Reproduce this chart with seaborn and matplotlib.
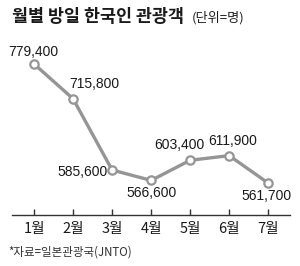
import matplotlib
matplotlib.use("Agg")
import matplotlib.pyplot as plt
import seaborn as sns
import pandas as pd
from matplotlib import font_manager

months = ["1월", "2월", "3월", "4월", "5월", "6월", "7월"]
visitors = [779400, 715800, 585600, 566600, 603400, 611900, 561700]
label_offsets = [(-1, 12), (21, 15), (-30, -2), (0, -13), (-11, 15), (3, 15), (-2, -13)]

sns.set_theme(style="white")
names = {f.name for f in font_manager.fontManager.ttflist}
num_font = "Liberation Sans Narrow" if "Liberation Sans Narrow" in names else "Liberation Sans"
plt.rcParams['font.family'] = ['Noto Sans CJK KR', 'DejaVu Sans']

df = pd.DataFrame({"x": range(1, 8), "v": visitors})

fig = plt.figure(figsize=(3.0, 2.66), dpi=100)
ax = fig.add_axes([0.04, 0.1917, 0.927, 0.6583])
sns.lineplot(data=df, x="x", y="v", ax=ax, color="#959595", linewidth=2.4,
             marker="o", markersize=6, markerfacecolor="white",
             markeredgecolor="#959595", markeredgewidth=1.6)

for i, (v, off) in enumerate(zip(visitors, label_offsets)):
    ax.annotate(f"{v:,}", (i + 1, v), xytext=off, textcoords="offset pixels",
                ha="center", va="center", fontsize=10, color="#1a1a1a",
                family=[num_font, 'DejaVu Sans'])

ax.set_xlim(0.436, 7.56)
ax.set_ylim(503400, 823300)
ax.set_xticks(range(1, 8))
ax.set_xticklabels(months, fontsize=10.5, color="#1a1a1a")
ax.set_yticks([])
ax.set_xlabel("")
ax.set_ylabel("")
for s in ["top", "right", "left"]:
    ax.spines[s].set_visible(False)
ax.spines["bottom"].set_color("#333333")
ax.spines["bottom"].set_linewidth(1.0)
ax.tick_params(axis="x", direction="in", length=4, width=1, color="#333333", pad=5, bottom=True)

fig.text(0.04, 0.935, "월별 방일 한국인 관광객", fontsize=12.5, fontweight="bold",
         color="#1a1a1a", va="center", ha="left")
fig.text(0.64, 0.932, "(단위=명)", fontsize=9.5, color="#222222", va="center", ha="left")
fig.text(0.027, 0.052, "*자료=일본관광국(JNTO)", fontsize=8.3, color="#333333", va="center", ha="left")

fig.savefig("out.png", dpi=100)
